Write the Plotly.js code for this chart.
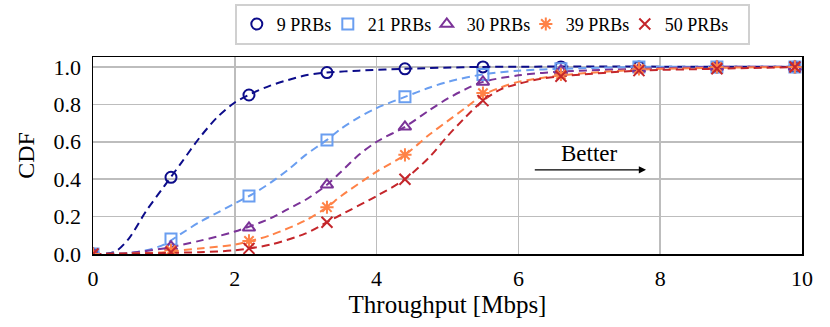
<!DOCTYPE html>
<html>
<head>
<meta charset="utf-8">
<script src="https://cdn.plot.ly/plotly-3.0.1.min.js"></script>
<style>
	body { margin: 0; background: #fff; }
	#graph { width: 830px; height: 327px; }
</style>
</head>
<body>
<div id="graph"></div>
<script>
// ------------------- Data ---------------------------------------------
var names = ["9 PRBs", "21 PRBs", "30 PRBs", "39 PRBs", "50 PRBs"];

// markers sit on a 1.1 Mbps grid
var markX = [0, 1.1, 2.2, 3.3, 4.4, 5.5, 6.6, 7.7, 8.8, 9.9];
var mark9  = [0, 0.41, 0.85, 0.97, 0.99, 1.0, 1.0, 1.0, 1.0, 1.0];
var mark21 = [0, 0.08, 0.31, 0.61, 0.84, 0.96, 0.99, 1.0, 1.0, 1.0];
var mark30 = [0, 0.04, 0.14, 0.37, 0.68, 0.92, 0.98, 0.99, 1.0, 1.0];
var mark39 = [0, 0.02, 0.07, 0.25, 0.53, 0.86, 0.96, 0.99, 1.0, 1.0];
var mark50 = [0, 0.01, 0.03, 0.17, 0.40, 0.82, 0.95, 0.98, 0.99, 1.0];

// dashed CDF curves (denser reading of the drawn lines)
var line9X  = [0, 0.3, 0.5, 0.75, 1.0, 1.25, 1.5, 1.75, 2.0, 2.25, 2.5, 2.75, 3.0, 3.3, 3.75, 4.4, 5.5, 10];
var line9Y  = [0, 0.01, 0.08, 0.23, 0.36, 0.49, 0.62, 0.73, 0.81, 0.86, 0.90, 0.93, 0.955, 0.97, 0.98, 0.99, 1.0, 1.0];
var line21X = [0, 0.5, 0.75, 1.0, 1.25, 1.5, 1.75, 2.0, 2.25, 2.5, 2.75, 3.0, 3.3, 3.5, 3.75, 4.0, 4.4, 4.75, 5.0, 5.5, 6.0, 6.6, 7.7, 10];
var line21Y = [0, 0.005, 0.02, 0.05, 0.11, 0.17, 0.22, 0.27, 0.32, 0.38, 0.45, 0.53, 0.61, 0.67, 0.73, 0.78, 0.84, 0.89, 0.92, 0.96, 0.98, 0.99, 1.0, 1.0];
var line30X = [0, 0.5, 1.0, 1.5, 2.0, 2.5, 2.75, 3.0, 3.3, 3.5, 3.75, 4.0, 4.4, 4.75, 5.0, 5.25, 5.5, 6.0, 6.6, 7.7, 8.8, 10];
var line30Y = [0, 0.005, 0.03, 0.07, 0.12, 0.19, 0.24, 0.29, 0.37, 0.44, 0.53, 0.60, 0.68, 0.77, 0.83, 0.88, 0.92, 0.955, 0.975, 0.99, 1.0, 1.0];
var line39X = [0, 0.5, 1.0, 1.5, 2.0, 2.5, 3.0, 3.3, 3.5, 4.0, 4.4, 4.75, 5.0, 5.25, 5.5, 5.75, 6.0, 6.6, 7.7, 8.8, 10];
var line39Y = [0, 0.002, 0.01, 0.03, 0.05, 0.10, 0.18, 0.25, 0.31, 0.44, 0.53, 0.64, 0.71, 0.78, 0.85, 0.89, 0.92, 0.955, 0.985, 0.995, 1.0];
var line50X = [0, 1.0, 1.5, 2.0, 2.5, 3.0, 3.3, 3.5, 4.0, 4.4, 4.75, 5.0, 5.25, 5.5, 5.75, 6.0, 6.3, 6.6, 7.7, 8.8, 10];
var line50Y = [0, 0.005, 0.01, 0.02, 0.05, 0.11, 0.17, 0.21, 0.31, 0.40, 0.52, 0.63, 0.73, 0.82, 0.88, 0.91, 0.935, 0.95, 0.98, 0.99, 1.0];

var xTicks = [0, 2, 4, 6, 8, 10];
var yTicks = [0, 0.2, 0.4, 0.6, 0.8, 1.0];
var yTickText = ["0.0", "0.2", "0.4", "0.6", "0.8", "1.0"];

// ------------------- Styles ----------------------
var colors = ["#0c0c8a", "#6a9ef0", "#7b3398", "#ff8247", "#c4262b"];
var symbols = ["circle-open", "square-open", "triangle-up-open", "asterisk-open", "x-thin-open"];
var legW = [46, 54, 54, 54, 78]; // legend entry widths; last one holds its whole label
var serif = "Liberation Serif";

var lines = [[line9X, line9Y], [line21X, line21Y], [line30X, line30Y], [line39X, line39Y], [line50X, line50Y]];
var marks = [mark9, mark21, mark30, mark39, mark50];

var traces = [];
for (var i = 0; i < names.length; i++) {
	traces.push({
		x: lines[i][0], y: lines[i][1],
		mode: "lines",
		line: {color: colors[i], width: 2, dash: "8px,5px", shape: "spline", smoothing: 0.8},
		showlegend: false,
		hoverinfo: "skip"
	});
}
for (var i = 0; i < names.length; i++) {
	traces.push({
		x: markX, y: marks[i],
		mode: "markers",
		name: names[i],
		legendwidth: legW[i],
		marker: {symbol: symbols[i], size: 11, color: colors[i], line: {color: colors[i], width: 2}}
	});
}

var layout = {
	width: 830, height: 327,
	margin: {l: 93, r: 28, t: 57, b: 73, autoexpand: false},
	paper_bgcolor: "#fff", plot_bgcolor: "#fff",
	font: {family: serif, size: 20, color: "#000"},
	xaxis: {
		range: [0, 10], tickvals: xTicks, ticks: "",
		tickfont: {family: serif, size: 22, color: "#000"},
		ticklabelstandoff: 4,
		showgrid: true, gridcolor: "#bdbdbd", gridwidth: 1.5,
		showline: true, linecolor: "#000", linewidth: 1.5, mirror: true,
		zeroline: false,
		title: {text: "Throughput [Mbps]", font: {family: serif, size: 25, color: "#000"}, standoff: 2}
	},
	yaxis: {
		range: [0, 1.053], tickvals: yTicks, ticktext: yTickText, ticks: "",
		tickfont: {family: serif, size: 22, color: "#000"},
		ticklabelstandoff: 6,
		showgrid: true, gridcolor: "#bdbdbd", gridwidth: 1.5,
		showline: true, linecolor: "#000", linewidth: 1.5, mirror: true,
		zeroline: false,
		title: {text: "CDF", font: {family: serif, size: 24, color: "#000"}, standoff: 12}
	},
	legend: {
		orientation: "h",
		x: 0.2, xanchor: "left",
		y: 1.27, yanchor: "top",
		bgcolor: "#fff", bordercolor: "#d0d0d0", borderwidth: 2,
		font: {family: serif, size: 18, color: "#000"},
		itemwidth: 30,
		tracegroupgap: 0
	},
	annotations: [{
		x: 7.8, y: 0.45, xref: "x", yref: "y",
		ax: 6.21, ay: 0.45, axref: "x", ayref: "y",
		showarrow: true, arrowhead: 2, arrowsize: 1.2, arrowwidth: 1.2, arrowcolor: "#000",
		text: ""
	}, {
		x: 7.0, y: 0.535, xref: "x", yref: "y",
		text: "Better", showarrow: false,
		font: {family: serif, size: 23, color: "#000"}
	}]
};

Plotly.newPlot(document.getElementById("graph"), traces, layout, {displayModeBar: false, staticPlot: true});
</script>
</body>
</html>
